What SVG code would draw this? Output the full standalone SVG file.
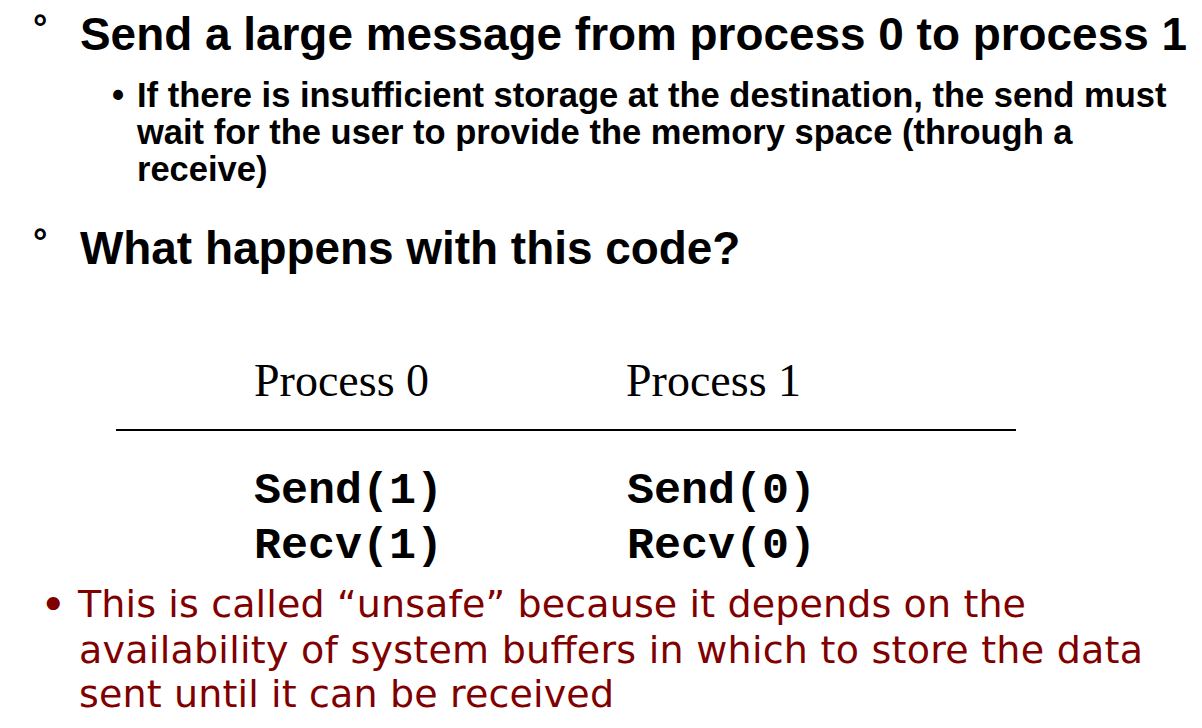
<svg xmlns="http://www.w3.org/2000/svg" width="1202" height="728" viewBox="0 0 1202 728">
<style>
.h{font-family:"Liberation Sans",Arial,sans-serif;font-weight:bold;font-size:45.9px;fill:#000}
.deg{font-family:"Liberation Sans",Arial,sans-serif;font-weight:bold;font-size:36px;fill:#000}
.s{font-family:"Liberation Sans",Arial,sans-serif;font-weight:bold;font-size:34.5px;fill:#000}
.p{font-family:"Liberation Serif","Times New Roman",serif;font-size:46px;fill:#000}
.c{font-family:"Liberation Mono","Courier New",monospace;font-weight:bold;font-size:45px;fill:#000}
.r{font-family:"DejaVu Sans",Verdana,sans-serif;font-size:38px;fill:#800000}
.rb{font-family:"DejaVu Sans",Verdana,sans-serif;font-size:45px;fill:#800000}
</style>
<rect width="1202" height="728" fill="#fff"/>
<g id="heading1">
<text class="deg" x="33" y="40">°</text>
<text class="h" x="80" y="50">Send a large message from process 0 to process 1</text>
</g>
<g id="subbullet">
<text class="s" x="112" y="107">•</text>
<text class="s" x="137" y="107">If there is insufficient storage at the destination, the send must</text>
<text class="s" x="137" y="144">wait for the user to provide the memory space (through a</text>
<text class="s" x="137" y="181">receive)</text>
</g>
<g id="heading2">
<text class="deg" x="33" y="254">°</text>
<text class="h" x="80" y="264">What happens with this code?</text>
</g>
<g id="table">
<text class="p" x="254" y="396">Process 0</text>
<text class="p" x="626" y="396">Process 1</text>
<line x1="116" y1="430" x2="1016" y2="430" stroke="#000" stroke-width="2"/>
<text class="c" x="254" y="503">Send(1)</text>
<text class="c" x="627" y="503">Send(0)</text>
<text class="c" x="254" y="558">Recv(1)</text>
<text class="c" x="627" y="558">Recv(0)</text>
</g>
<g id="note">
<text class="rb" x="40" y="620">•</text>
<text class="r" x="78" y="617" textLength="948" lengthAdjust="spacing">This is called “unsafe” because it depends on the</text>
<text class="r" x="79" y="663" textLength="1064" lengthAdjust="spacing">availability of system buffers in which to store the data</text>
<text class="r" x="79" y="707" textLength="535" lengthAdjust="spacing">sent until it can be received</text>
</g>
</svg>
